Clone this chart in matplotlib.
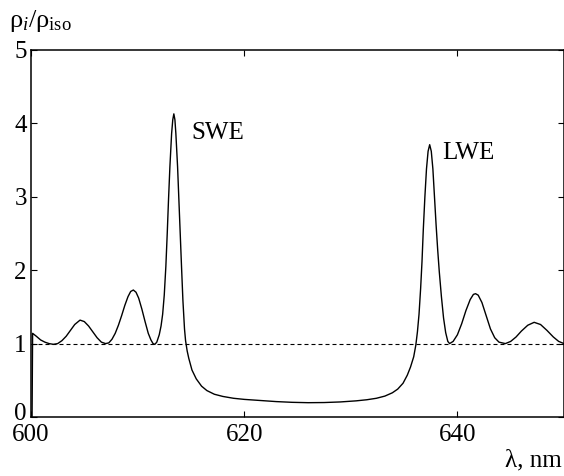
import matplotlib
matplotlib.use('Agg')
import matplotlib.pyplot as plt
import matplotlib.transforms as mtransforms

# wavelength (nm) and relative density of states
wl = [600.1, 600.15, 600.5, 600.9, 601.3, 601.7, 602.1,
      602.5, 602.9, 603.3, 603.7, 604.1, 604.6, 605.0, 605.4, 605.8, 606.2, 606.6, 607.0,
      607.3, 607.6, 607.9, 608.2, 608.5, 608.8, 609.1, 609.35, 609.6, 609.85, 610.1, 610.4,
      610.7, 611.0, 611.25, 611.45, 611.62,
      611.8, 612.03, 612.2, 612.35, 612.5, 612.65, 612.78, 612.9, 613.03, 613.19, 613.3,
      613.4, 613.5, 613.59, 613.75, 613.87, 614.0, 614.12, 614.25, 614.4, 614.5, 614.65,
      614.8, 615.1, 615.5, 616.0, 616.5, 617.2, 618.0, 619.0, 620.0, 621.5, 623.0, 624.5,
      626.0, 627.5, 629.0, 630.5, 631.5, 632.4, 633.2, 633.9, 634.4, 634.9, 635.3, 635.6,
      635.9, 636.1, 636.25, 636.4, 636.55, 636.68, 636.8, 636.95, 637.1, 637.25, 637.4, 637.55,
      637.7, 637.85, 638.0, 638.15, 638.3, 638.5, 638.7, 638.9, 639.1, 639.27,
      639.6, 640.0, 640.4, 640.8, 641.2, 641.5, 641.7, 641.95, 642.3, 642.7, 643.1, 643.5,
      643.9, 644.5, 645.0, 645.5, 646.0, 646.6, 647.2, 647.8, 648.4, 649.0, 649.5, 650.0]
rho = [0.0, 1.14, 1.10, 1.05, 1.02, 1.00, 0.99,
       1.00, 1.04, 1.10, 1.18, 1.26, 1.32, 1.30, 1.24, 1.16, 1.08, 1.02, 1.00,
       1.01, 1.06, 1.14, 1.25, 1.38, 1.52, 1.64, 1.71, 1.73, 1.70, 1.62, 1.47,
       1.30, 1.14, 1.05, 1.00, 0.99,
       1.02, 1.12, 1.24, 1.40, 1.66, 2.05, 2.50, 2.96, 3.41, 3.86, 4.05,
       4.13, 4.05, 3.86, 3.41, 2.96, 2.50, 2.05, 1.59, 1.20, 1.04, 0.90,
       0.80, 0.64, 0.52, 0.42, 0.36, 0.31, 0.28, 0.255, 0.24, 0.225, 0.21, 0.20,
       0.195, 0.197, 0.205, 0.22, 0.235, 0.255, 0.285, 0.33, 0.38, 0.46, 0.57, 0.68,
       0.82, 0.98, 1.16, 1.40, 1.75, 2.12, 2.55, 3.00, 3.38, 3.62, 3.71, 3.62,
       3.38, 3.00, 2.62, 2.28, 1.98, 1.64, 1.35, 1.15, 1.03, 1.00,
       1.03, 1.12, 1.27, 1.45, 1.60, 1.67, 1.68, 1.66, 1.56, 1.38, 1.20, 1.08,
       1.02, 1.00, 1.03, 1.09, 1.17, 1.25, 1.29, 1.26, 1.18, 1.09, 1.03, 1.00]

x_ticks = [600, 620, 640, 650]
x_labels = ['600', '620', '640', '']
y_ticks = [0, 1, 2, 3, 4, 5]

plt.rcParams.update({
    'font.family': 'Liberation Serif',
    'mathtext.fontset': 'custom',
    'mathtext.rm': 'Liberation Serif',
    'mathtext.it': 'Liberation Serif:italic',
    'font.size': 18,
    'axes.linewidth': 1.1,
})

fig = plt.figure(figsize=(5.64, 4.76), dpi=100)
ax = fig.add_axes([31 / 564, 59 / 476, 533 / 564, 367 / 476])

ax.plot(wl, rho, color='black', lw=1.0)
ax.axhline(1.0, color='black', lw=0.8, linestyle=(0, (3.6, 2.7)))

ax.set_xlim(600, 650)
ax.set_ylim(0, 5)
ax.set_xticks(x_ticks)
ax.set_xticklabels(x_labels)
ax.set_yticks(y_ticks)
ax.tick_params(direction='in', length=4.5, width=0.8, top=True, right=True,
               labelsize=18, pad=3)
ax.tick_params(axis='x', pad=5)

# lift the "0" label a little so it clears the "600"
zero_lbl = ax.get_yticklabels()[0]
zero_lbl.set_transform(zero_lbl.get_transform() +
                       mtransforms.ScaledTranslation(0, 6 / 100, fig.dpi_scale_trans))

ax.text(615.0, 3.87, 'SWE', fontsize=18, va='center', ha='left')
ax.text(638.6, 3.60, 'LWE', fontsize=18, va='center', ha='left')

fig.text(9 / 564, 1 - 21 / 476, r'$\mathrm{\rho}_{\mathit{i}}/\mathrm{\rho}_{\mathrm{iso}}$',
         fontsize=19, ha='left', va='center')
fig.text(562 / 564, 1 - 460 / 476, 'λ, nm', fontsize=18, ha='right', va='center')

fig.savefig('out.png', dpi=100)
